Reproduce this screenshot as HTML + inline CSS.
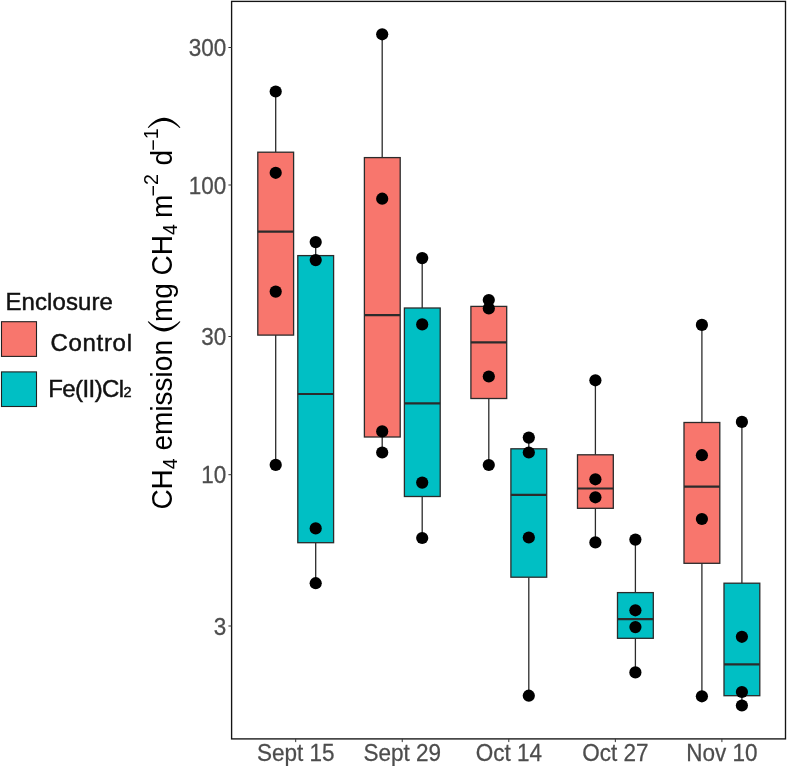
<!DOCTYPE html>
<html><head><meta charset="utf-8"><title>CH4 emission boxplot</title>
<style>
html,body{margin:0;padding:0;background:#fff;}
body{width:787px;height:766px;overflow:hidden;font-family:"Liberation Sans",sans-serif;}
svg{display:block;will-change:transform;}
text{font-family:"Liberation Sans",sans-serif;}
.tk{font-size:22.5px;fill:#4D4D4D;stroke:#4D4D4D;stroke-width:0.25px;}
.lg{font-size:24px;fill:#111;stroke:#111;stroke-width:0.45px;}
.yt{font-size:28px;fill:#000;}
</style></head><body>
<svg width="787" height="766" viewBox="0 0 787 766">
<rect x="0" y="0" width="787" height="766" fill="#ffffff"/>

<line x1="275.7" y1="91.5" x2="275.7" y2="152.2" stroke="#2b2b2b" stroke-width="1.3"/>
<line x1="275.7" y1="335.1" x2="275.7" y2="464.9" stroke="#2b2b2b" stroke-width="1.3"/>
<rect x="257.8" y="152.2" width="35.8" height="182.9" fill="#F8766D" stroke="#2b2b2b" stroke-width="1.3"/>
<line x1="257.8" y1="231.7" x2="293.6" y2="231.7" stroke="#2b2b2b" stroke-width="2.2"/>
<line x1="315.7" y1="242.1" x2="315.7" y2="255.6" stroke="#2b2b2b" stroke-width="1.3"/>
<line x1="315.7" y1="542.7" x2="315.7" y2="583.2" stroke="#2b2b2b" stroke-width="1.3"/>
<rect x="297.8" y="255.6" width="35.8" height="287.1" fill="#00BFC4" stroke="#2b2b2b" stroke-width="1.3"/>
<line x1="297.8" y1="394.0" x2="333.6" y2="394.0" stroke="#2b2b2b" stroke-width="2.2"/>
<line x1="382.2" y1="34.3" x2="382.2" y2="157.6" stroke="#2b2b2b" stroke-width="1.3"/>
<line x1="382.2" y1="437.0" x2="382.2" y2="452.5" stroke="#2b2b2b" stroke-width="1.3"/>
<rect x="364.4" y="157.6" width="35.8" height="279.4" fill="#F8766D" stroke="#2b2b2b" stroke-width="1.3"/>
<line x1="364.4" y1="315.2" x2="400.1" y2="315.2" stroke="#2b2b2b" stroke-width="2.2"/>
<line x1="422.2" y1="258.1" x2="422.2" y2="308.0" stroke="#2b2b2b" stroke-width="1.3"/>
<line x1="422.2" y1="496.5" x2="422.2" y2="538.0" stroke="#2b2b2b" stroke-width="1.3"/>
<rect x="404.4" y="308.0" width="35.8" height="188.5" fill="#00BFC4" stroke="#2b2b2b" stroke-width="1.3"/>
<line x1="404.4" y1="403.4" x2="440.1" y2="403.4" stroke="#2b2b2b" stroke-width="2.2"/>
<line x1="488.8" y1="300.0" x2="488.8" y2="306.4" stroke="#2b2b2b" stroke-width="1.3"/>
<line x1="488.8" y1="398.5" x2="488.8" y2="465.0" stroke="#2b2b2b" stroke-width="1.3"/>
<rect x="470.9" y="306.4" width="35.8" height="92.1" fill="#F8766D" stroke="#2b2b2b" stroke-width="1.3"/>
<line x1="470.9" y1="342.3" x2="506.7" y2="342.3" stroke="#2b2b2b" stroke-width="2.2"/>
<line x1="528.8" y1="437.6" x2="528.8" y2="448.8" stroke="#2b2b2b" stroke-width="1.3"/>
<line x1="528.8" y1="577.2" x2="528.8" y2="695.7" stroke="#2b2b2b" stroke-width="1.3"/>
<rect x="510.9" y="448.8" width="35.8" height="128.4" fill="#00BFC4" stroke="#2b2b2b" stroke-width="1.3"/>
<line x1="510.9" y1="494.8" x2="546.7" y2="494.8" stroke="#2b2b2b" stroke-width="2.2"/>
<line x1="595.4" y1="380.3" x2="595.4" y2="454.8" stroke="#2b2b2b" stroke-width="1.3"/>
<line x1="595.4" y1="508.3" x2="595.4" y2="542.4" stroke="#2b2b2b" stroke-width="1.3"/>
<rect x="577.5" y="454.8" width="35.8" height="53.5" fill="#F8766D" stroke="#2b2b2b" stroke-width="1.3"/>
<line x1="577.5" y1="488.5" x2="613.2" y2="488.5" stroke="#2b2b2b" stroke-width="2.2"/>
<line x1="635.4" y1="539.6" x2="635.4" y2="592.6" stroke="#2b2b2b" stroke-width="1.3"/>
<line x1="635.4" y1="638.3" x2="635.4" y2="672.4" stroke="#2b2b2b" stroke-width="1.3"/>
<rect x="617.5" y="592.6" width="35.8" height="45.7" fill="#00BFC4" stroke="#2b2b2b" stroke-width="1.3"/>
<line x1="617.5" y1="619.1" x2="653.2" y2="619.1" stroke="#2b2b2b" stroke-width="2.2"/>
<line x1="701.9" y1="324.9" x2="701.9" y2="422.5" stroke="#2b2b2b" stroke-width="1.3"/>
<line x1="701.9" y1="563.3" x2="701.9" y2="696.3" stroke="#2b2b2b" stroke-width="1.3"/>
<rect x="684.0" y="422.5" width="35.8" height="140.8" fill="#F8766D" stroke="#2b2b2b" stroke-width="1.3"/>
<line x1="684.0" y1="486.7" x2="719.8" y2="486.7" stroke="#2b2b2b" stroke-width="2.2"/>
<line x1="741.9" y1="421.9" x2="741.9" y2="583.2" stroke="#2b2b2b" stroke-width="1.3"/>
<line x1="741.9" y1="695.7" x2="741.9" y2="705.5" stroke="#2b2b2b" stroke-width="1.3"/>
<rect x="724.0" y="583.2" width="35.8" height="112.5" fill="#00BFC4" stroke="#2b2b2b" stroke-width="1.3"/>
<line x1="724.0" y1="664.4" x2="759.8" y2="664.4" stroke="#2b2b2b" stroke-width="2.2"/>
<circle cx="275.7" cy="91.5" r="6.1" fill="#000"/>
<circle cx="275.7" cy="172.8" r="6.1" fill="#000"/>
<circle cx="275.7" cy="291.6" r="6.1" fill="#000"/>
<circle cx="275.7" cy="464.9" r="6.1" fill="#000"/>
<circle cx="315.7" cy="242.1" r="6.1" fill="#000"/>
<circle cx="315.7" cy="260.1" r="6.1" fill="#000"/>
<circle cx="315.7" cy="528.4" r="6.1" fill="#000"/>
<circle cx="315.7" cy="583.2" r="6.1" fill="#000"/>
<circle cx="382.2" cy="34.3" r="6.1" fill="#000"/>
<circle cx="382.2" cy="198.7" r="6.1" fill="#000"/>
<circle cx="382.2" cy="431.4" r="6.1" fill="#000"/>
<circle cx="382.2" cy="452.5" r="6.1" fill="#000"/>
<circle cx="422.2" cy="258.1" r="6.1" fill="#000"/>
<circle cx="422.2" cy="324.4" r="6.1" fill="#000"/>
<circle cx="422.2" cy="482.6" r="6.1" fill="#000"/>
<circle cx="422.2" cy="538.0" r="6.1" fill="#000"/>
<circle cx="488.8" cy="300.0" r="6.1" fill="#000"/>
<circle cx="488.8" cy="308.4" r="6.1" fill="#000"/>
<circle cx="488.8" cy="376.5" r="6.1" fill="#000"/>
<circle cx="488.8" cy="465.0" r="6.1" fill="#000"/>
<circle cx="528.8" cy="437.6" r="6.1" fill="#000"/>
<circle cx="528.8" cy="452.5" r="6.1" fill="#000"/>
<circle cx="528.8" cy="537.5" r="6.1" fill="#000"/>
<circle cx="528.8" cy="695.7" r="6.1" fill="#000"/>
<circle cx="595.4" cy="380.3" r="6.1" fill="#000"/>
<circle cx="595.4" cy="479.3" r="6.1" fill="#000"/>
<circle cx="595.4" cy="497.3" r="6.1" fill="#000"/>
<circle cx="595.4" cy="542.4" r="6.1" fill="#000"/>
<circle cx="635.4" cy="539.6" r="6.1" fill="#000"/>
<circle cx="635.4" cy="610.3" r="6.1" fill="#000"/>
<circle cx="635.4" cy="627.1" r="6.1" fill="#000"/>
<circle cx="635.4" cy="672.4" r="6.1" fill="#000"/>
<circle cx="701.9" cy="324.9" r="6.1" fill="#000"/>
<circle cx="701.9" cy="455.2" r="6.1" fill="#000"/>
<circle cx="701.9" cy="519.0" r="6.1" fill="#000"/>
<circle cx="701.9" cy="696.3" r="6.1" fill="#000"/>
<circle cx="741.9" cy="421.9" r="6.1" fill="#000"/>
<circle cx="741.9" cy="636.8" r="6.1" fill="#000"/>
<circle cx="741.9" cy="692.0" r="6.1" fill="#000"/>
<circle cx="741.9" cy="705.5" r="6.1" fill="#000"/>
<rect x="231.6" y="1.4" width="553.9" height="737.5" fill="none" stroke="#141414" stroke-width="1.35"/>
<line x1="228.4" y1="47.5" x2="231.6" y2="47.5" stroke="#333" stroke-width="1.0"/>
<text class="tk" transform="translate(226.3,56.1) scale(1,1.08)" text-anchor="end">300</text>
<line x1="228.4" y1="185.0" x2="231.6" y2="185.0" stroke="#333" stroke-width="1.0"/>
<text class="tk" transform="translate(226.3,193.6) scale(1,1.08)" text-anchor="end">100</text>
<line x1="228.4" y1="336.5" x2="231.6" y2="336.5" stroke="#333" stroke-width="1.0"/>
<text class="tk" transform="translate(226.3,345.1) scale(1,1.08)" text-anchor="end">30</text>
<line x1="228.4" y1="474.7" x2="231.6" y2="474.7" stroke="#333" stroke-width="1.0"/>
<text class="tk" transform="translate(226.3,483.3) scale(1,1.08)" text-anchor="end">10</text>
<line x1="228.4" y1="626.0" x2="231.6" y2="626.0" stroke="#333" stroke-width="1.0"/>
<text class="tk" transform="translate(226.3,634.6) scale(1,1.08)" text-anchor="end">3</text>
<line x1="295.7" y1="738.9" x2="295.7" y2="742.1" stroke="#333" stroke-width="1.0"/>
<text class="tk" transform="translate(295.7,760.6) scale(1,1.08)" text-anchor="middle">Sept 15</text>
<line x1="402.25" y1="738.9" x2="402.25" y2="742.1" stroke="#333" stroke-width="1.0"/>
<text class="tk" transform="translate(402.25,760.6) scale(1,1.08)" text-anchor="middle">Sept 29</text>
<line x1="508.8" y1="738.9" x2="508.8" y2="742.1" stroke="#333" stroke-width="1.0"/>
<text class="tk" transform="translate(508.8,760.6) scale(1,1.08)" text-anchor="middle">Oct 14</text>
<line x1="615.35" y1="738.9" x2="615.35" y2="742.1" stroke="#333" stroke-width="1.0"/>
<text class="tk" transform="translate(615.35,760.6) scale(1,1.08)" text-anchor="middle">Oct 27</text>
<line x1="721.9" y1="738.9" x2="721.9" y2="742.1" stroke="#333" stroke-width="1.0"/>
<text class="tk" transform="translate(721.9,760.6) scale(1,1.08)" text-anchor="middle">Nov 10</text>
<text class="lg" transform="translate(5.5,309.9) scale(1,1.03)" textLength="107.5" lengthAdjust="spacing">Enclosure</text>
<rect x="1.5" y="321.7" width="35" height="34.7" fill="#F8766D" stroke="#222" stroke-width="1.1"/>
<rect x="1.5" y="371.9" width="35" height="34.6" fill="#00BFC4" stroke="#222" stroke-width="1.1"/>
<text class="lg" transform="translate(50.5,350.8) scale(1,1.03)" textLength="81.5" lengthAdjust="spacing">Control</text>
<text class="lg" transform="translate(48.2,397.3) scale(1,1.03)" textLength="83.5" lengthAdjust="spacing">Fe(II)Cl<tspan font-size="14.5">2</tspan></text>
<g transform="translate(172.1,509.6) rotate(-90) scale(1,1.035)">
<text class="yt" x="0" y="0">CH<tspan font-size="19.6" dy="5.2">4</tspan><tspan dy="-5.2"> emission </tspan></text>
<text class="yt" x="187.5" y="0">mg CH<tspan font-size="19.6" dy="5.2">4</tspan><tspan dy="-5.2" dx="-1.7"> m</tspan><tspan font-size="19.6" dy="-11.8" dx="-1.8">−</tspan><tspan font-size="19.6" dy="-2.2">2</tspan><tspan dy="14" dx="0.9"> d</tspan><tspan font-size="19.6" dy="-11.8" dx="-0.9">−</tspan><tspan font-size="19.6" dy="-2.2">1</tspan></text>
<path d="M187.80,-23.55 C181.50,-18.49 178.10,-13.44 178.10,-7.75 C178.10,-2.06 181.50,2.99 187.80,8.05 L188.30,7.15 C183.61,2.41 181.40,-2.06 181.40,-7.75 C181.40,-13.44 183.61,-17.91 188.30,-22.65 Z" fill="#000"/>
<path d="M382.00,-23.55 C388.37,-18.49 391.80,-13.44 391.80,-7.75 C391.80,-2.06 388.37,2.99 382.00,8.05 L381.50,7.15 C386.26,2.41 388.50,-2.06 388.50,-7.75 C388.50,-13.44 386.26,-17.91 381.50,-22.65 Z" fill="#000"/>
</g>
</svg></body></html>
